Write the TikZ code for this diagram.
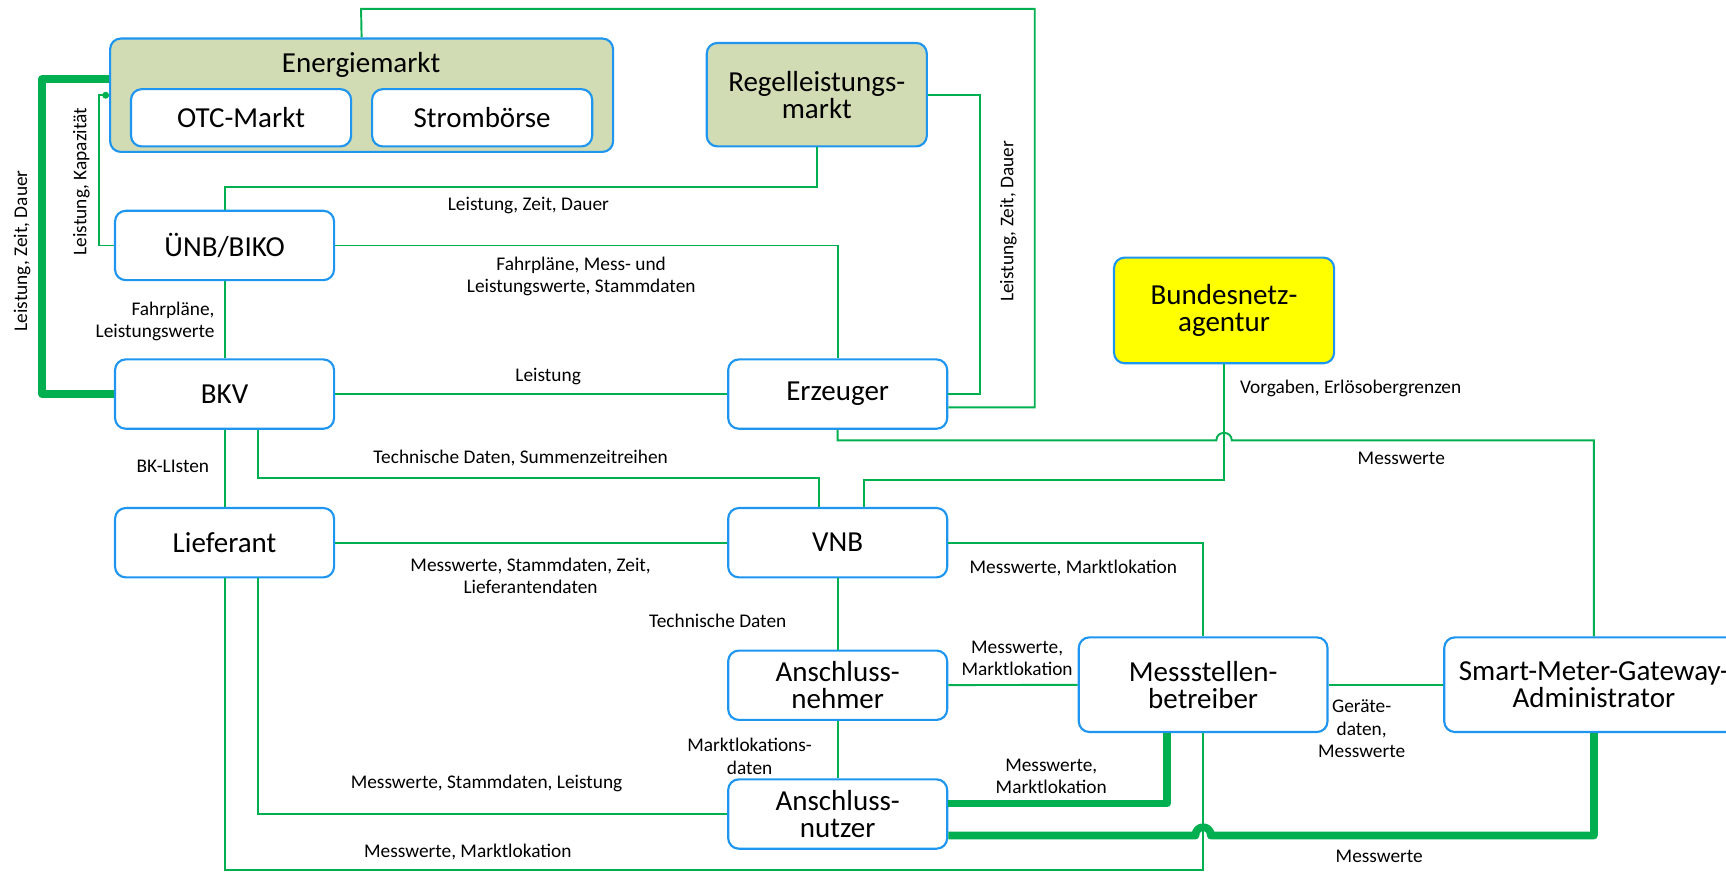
\documentclass[tikz,border=0pt]{standalone}
\usepackage{fontspec}
\setmainfont{Carlito}
\usetikzlibrary{calc,arrows.meta}
\definecolor{linkgreen}{RGB}{0,176,80}
\definecolor{boxblue}{RGB}{30,150,240}
\definecolor{marktolive}{RGB}{209,219,180}
\definecolor{netzyellow}{RGB}{255,255,0}
\begin{document}
\begin{tikzpicture}[x=0.02cm,y=-0.02cm,
    box/.style={draw=boxblue,line width=1.1pt,rounded corners=5.5pt,fill=white,
      minimum width=3.98cm,minimum height=1.26cm,align=center,inner sep=1pt,
      font=\fontsize{15}{14}\selectfont},
    markt/.style={box,fill=marktolive},
    link/.style={draw=linkgreen,line width=1pt},
    thicklink/.style={draw=linkgreen,line width=4pt,line join=round},
    lbl/.style={font=\fontsize{10}{11.5}\selectfont,align=center,inner sep=1pt}]
  \useasboundingbox (0,0) rectangle (1568,792);

  %%%%%%%%%%%%%%%%%%%%%%%%%%%%%%%%%%%%%%%%%%%%%%%%%%%%%%%%%%%%%%%%%%%%%%%%%%%
  %%%%  Boxes
  \node[markt,minimum width=9.14cm,minimum height=2.06cm] (energie) at (328.5,86.5) {};
  \node[box,draw=none,fill=none] (emtitle) at (328,59) {Energiemarkt};
  \node[box,minimum width=4cm,minimum height=1.04cm] (otc) at (219,107) {OTC-Markt};
  \node[box,minimum width=4cm,minimum height=1.04cm] (boerse) at (438,107) {Strombörse};
  \node[markt,minimum width=4cm,minimum height=1.88cm] (regel) at (742,86) {Regelleistungs-\\markt};
  \node[box,fill=netzyellow,minimum width=4cm,minimum height=1.92cm] (bnetza) at (1112,282) {Bundesnetz-\\agentur};

  \node[box] (uenb) at (204,223) {ÜNB/BIKO};
  \node[box] (bkv) at (204,358) {BKV};
  \node[box] (erzeuger) at (761,358) {Erzeuger};
  \node[box] (lieferant) at (204,493) {Lieferant};
  \node[box] (vnb) at (761,493) {VNB};
  \node[box] (anehmer) at (761,622.5) {Anschluss-\\nehmer};
  \node[box] (anutzer) at (761,739.5) {Anschluss-\\nutzer};
  \node[box,minimum width=4.52cm,minimum height=1.72cm] (msb) at (1093,622) {Messstellen-\\betreiber};
  \node[box,minimum width=5.44cm,minimum height=1.72cm] (smgwa) at (1448,622) {Smart-Meter-Gateway-\\Administrator};

  %%%%%%%%%%%%%%%%%%%%%%%%%%%%%%%%%%%%%%%%%%%%%%%%%%%%%%%%%%%%%%%%%%%%%%%%%%%
  %%%%  Markets
  \draw[link] (energie.north) -- (328,8) -| (940,370) -- ($(erzeuger.east)+(0,12)$);
  \draw[link] (regel.east) -| (890,358) -- (erzeuger.east);
  \draw[link] (regel.south) |- (204,170) -- (uenb.north);
  \draw[link,-{Circle[length=3.5pt]}] (uenb.west) -| (90,86.5) -- (energie.west);
  \draw[thicklink] (bkv.west) -| (38,72) -- ($(energie.west)+(0,-14.5)$);

  \node[lbl,rotate=90] (l1) at (20,228) {Leistung, Zeit, Dauer};
  \node[lbl,rotate=90] (l2) at (74,165) {Leistung, Kapazität};
  \node[lbl,rotate=90] (l3) at (916,201) {Leistung, Zeit, Dauer};
  \node[lbl] (l4) at (480,187) {Leistung, Zeit, Dauer};

  %%%%%%%%%%%%%%%%%%%%%%%%%%%%%%%%%%%%%%%%%%%%%%%%%%%%%%%%%%%%%%%%%%%%%%%%%%%
  %%%%  Grid and balancing
  \draw[link] (uenb.east) -| (erzeuger.north);
  \draw[link] (uenb) -- (bkv);
  \draw[link] (bkv) -- (erzeuger);
  \draw[link] ($(bkv.south)+(30,0)$) |- (744,434) -- ($(vnb.north)+(-17,0)$);
  \draw[link] (bkv) -- (lieferant);
  \draw[link] ($(vnb.north)+(24,0)$) |- (1112,436) -- (bnetza.south);
  \draw[link] (erzeuger.south) |- (1105,400)
    .. controls (1105,391) and (1119,391) .. (1119,400) -| (smgwa.north);

  \node[lbl] (l5) at (528,251) {Fahrpläne, Mess- und\\Leistungswerte, Stammdaten};
  \node[lbl,anchor=east,align=right] (l6) at (197,292) {Fahrpläne,\\Leistungswerte};
  \node[lbl] (l7) at (498,342) {Leistung};
  \node[lbl] (l8) at (157,424) {BK-LIsten};
  \node[lbl] (l9) at (473,416) {Technische Daten, Summenzeitreihen};
  \node[lbl] (l10) at (1227,353) {Vorgaben, Erlösobergrenzen};
  \node[lbl] (l11) at (1273,416) {Messwerte};

  %%%%%%%%%%%%%%%%%%%%%%%%%%%%%%%%%%%%%%%%%%%%%%%%%%%%%%%%%%%%%%%%%%%%%%%%%%%
  %%%%  Metering
  \draw[link] (lieferant) -- (vnb);
  \draw[link] (vnb) -- (anehmer);
  \draw[link] (anehmer) -- (anutzer);
  \draw[link] (anehmer) -- (msb);
  \draw[link] (vnb.east) -| (msb.north);
  \draw[link] (msb) -- (smgwa);
  \draw[link] ($(lieferant.south)+(30,0)$) |- (anutzer.west);
  \draw[link] (lieferant.south) |- (1093,790) -- (msb.south);
  \draw[thicklink] ($(anutzer.east)+(0,-9.5)$) -| ($(msb.south)+(-33,0)$);
  \draw[thicklink] ($(anutzer.east)+(0,19.5)$) -- (1086,759)
    .. controls (1086,749) and (1100,749) .. (1100,759) -| (smgwa.south);

  \node[lbl] (l12) at (482,523) {Messwerte, Stammdaten, Zeit,\\Lieferantendaten};
  \node[lbl] (l13) at (975,516) {Messwerte, Marktlokation};
  \node[lbl] (l14) at (652,564) {Technische Daten};
  \node[lbl] (l15) at (924,598) {Messwerte,\\Marktlokation};
  \node[lbl] (l16) at (1237,662) {Geräte-\\daten,\\Messwerte};
  \node[lbl] (l17) at (681,687) {Marktlokations-\\daten};
  \node[lbl] (l18) at (442,712) {Messwerte, Stammdaten, Leistung};
  \node[lbl] (l19) at (955,705) {Messwerte,\\Marktlokation};
  \node[lbl] (l20) at (425,774) {Messwerte, Marktlokation};
  \node[lbl] (l21) at (1253,778) {Messwerte};
\end{tikzpicture}
\end{document}
